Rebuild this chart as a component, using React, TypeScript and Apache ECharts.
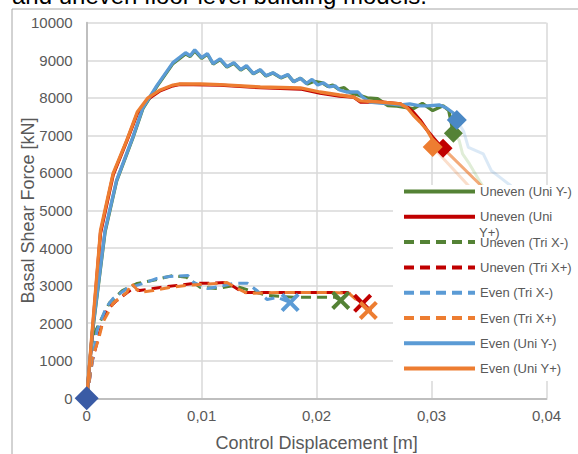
import React, { useEffect, useRef } from "react";
import * as echarts from "echarts";

const FONT = "'Liberation Sans', Arial, Helvetica, sans-serif";
const TXT = "#595959";

const seriesNames = [
  "Uneven (Uni Y-)",
  "Uneven (Uni Y+)",
  "Uneven (Tri X-)",
  "Uneven (Tri X+)",
  "Even (Tri X-)",
  "Even (Tri X+)",
  "Even (Uni Y-)",
  "Even (Uni Y+)",
];

const xTicks = [0, 0.01, 0.02, 0.03, 0.04];
const yTicks = [0, 1000, 2000, 3000, 4000, 5000, 6000, 7000, 8000, 9000, 10000];

// Uneven (Uni Y-) – green solid
const unevenUniYNeg = [
  [0, 0], [0.0005, 1750], [0.0016, 4430], [0.0026, 5780], [0.004, 6920], [0.0049, 7720],
  [0.0061, 8300], [0.0075, 8910], [0.0086, 9170], [0.009, 9100], [0.0094, 9250], [0.01, 9050],
  [0.0105, 9160], [0.011, 8900], [0.0116, 9020], [0.0122, 8820], [0.0128, 8920], [0.0134, 8740],
  [0.0139, 8840], [0.0145, 8640], [0.0151, 8740], [0.0156, 8580], [0.0162, 8660], [0.0169, 8530],
  [0.0175, 8610], [0.018, 8430], [0.0186, 8520], [0.0192, 8370], [0.0198, 8440], [0.0205, 8400],
  [0.021, 8300], [0.0214, 8340], [0.0219, 8230], [0.0224, 8270], [0.0229, 8140], [0.0236, 8080],
  [0.0244, 8000], [0.0253, 7980], [0.0262, 7790], [0.027, 7780], [0.0278, 7740], [0.0284, 7710],
  [0.0292, 7850], [0.0301, 7660], [0.031, 7790], [0.0315, 7660], [0.0319, 7060],
];
const unevenUniYNegTail = [
  [0.0319, 7060], [0.0324, 6870], [0.0327, 6510], [0.0333, 6240], [0.0343, 5720], [0.035, 5400],
];

// Uneven (Uni Y+) – red solid
const unevenUniYPos = [
  [0, 0], [0.0004, 1400], [0.0012, 4400], [0.0023, 5950], [0.0035, 6860], [0.0044, 7580],
  [0.0053, 7960], [0.0064, 8190], [0.0075, 8320], [0.0081, 8360], [0.0116, 8340], [0.0151, 8270],
  [0.0186, 8235], [0.0203, 8128], [0.022, 8048], [0.0232, 8022], [0.0238, 7889], [0.0255, 7889],
  [0.0273, 7836], [0.0279, 7756], [0.0284, 7623], [0.029, 7410], [0.0296, 7143], [0.0301, 6956],
  [0.0307, 6743], [0.031, 6660],
];
const unevenUniYPosTail = [[0.031, 6660], [0.0343, 5665], [0.0352, 5400]];

// Uneven (Tri X-) – green dashed
const unevenTriXNeg = [
  [0, 0], [0.0005, 1620], [0.0011, 2000], [0.002, 2550], [0.0031, 2870], [0.0044, 3060],
  [0.0058, 3140], [0.0075, 3270], [0.0087, 3220], [0.0093, 3085], [0.0099, 2950], [0.0114, 2925],
  [0.0128, 3005], [0.0142, 2870], [0.0157, 2740], [0.018, 2690], [0.021, 2690], [0.0216, 2690],
  [0.0221, 2606],
];

// Uneven (Tri X+) – red dashed
const unevenTriXPos = [
  [0, 0], [0.0005, 1010], [0.0011, 1730], [0.0017, 2340], [0.0026, 2600], [0.004, 2925],
  [0.0046, 2870], [0.0064, 2950], [0.0093, 3060], [0.0107, 3060], [0.0122, 3085], [0.0136, 2820],
  [0.0166, 2820], [0.021, 2820], [0.0227, 2820], [0.024, 2530],
];

// Even (Tri X-) – blue dashed
const evenTriXNeg = [
  [0, 0], [0.0009, 1810], [0.0017, 2420], [0.0023, 2660], [0.0035, 2925], [0.0049, 3060],
  [0.0061, 3190], [0.0072, 3245], [0.0088, 3270], [0.0093, 3085], [0.0105, 2925], [0.0116, 2980],
  [0.0128, 3060], [0.014, 3060], [0.0148, 2870], [0.0157, 2630], [0.0166, 2690], [0.0177, 2550],
];

// Even (Tri X+) – orange dashed
const evenTriXPos = [
  [0, 0], [0.0005, 1090], [0.001, 1540], [0.0014, 2020], [0.0023, 2530], [0.0035, 2820],
  [0.0039, 3060], [0.0046, 2820], [0.0058, 2870], [0.0072, 2950], [0.0087, 3005], [0.0099, 3030],
  [0.0114, 3060], [0.0122, 3085], [0.0131, 2925], [0.014, 2790], [0.0166, 2820], [0.021, 2820],
  [0.0228, 2800], [0.0245, 2340],
];

// Even (Uni Y-) – blue solid
const evenUniYNeg = [
  [0, 0], [0.0005, 1800], [0.0016, 4470], [0.0026, 5800], [0.004, 6940], [0.0049, 7740],
  [0.0061, 8325], [0.0075, 8936], [0.0086, 9200], [0.009, 9120], [0.0094, 9280], [0.01, 9070],
  [0.0105, 9180], [0.011, 8910], [0.0116, 9040], [0.0122, 8830], [0.0128, 8936], [0.0134, 8750],
  [0.0139, 8856], [0.0145, 8645], [0.0151, 8750], [0.0156, 8590], [0.0162, 8670], [0.0169, 8540],
  [0.0175, 8620], [0.018, 8430], [0.0186, 8520], [0.0191, 8380], [0.0196, 8490], [0.0201, 8340],
  [0.0206, 8400], [0.0211, 8290], [0.0216, 8320], [0.022, 8208], [0.0226, 8155], [0.0236, 8155],
  [0.024, 8022], [0.0246, 7889], [0.0255, 7862], [0.0264, 7836], [0.0273, 7809], [0.0281, 7836],
  [0.029, 7783], [0.0296, 7783], [0.0307, 7809], [0.0313, 7729], [0.0319, 7596], [0.0322, 7410],
];
const evenUniYNegTail = [
  [0.0322, 7410], [0.0328, 7100], [0.0332, 6680], [0.0345, 6510], [0.0352, 6060], [0.0361, 5850],
  [0.0369, 5660], [0.038, 5300],
];

// Even (Uni Y+) – orange solid
const evenUniYPos = [
  [0, 0], [0.0004, 1500], [0.0012, 4470], [0.0023, 5990], [0.0035, 6880], [0.0044, 7620],
  [0.0053, 7990], [0.0064, 8210], [0.0075, 8340], [0.0081, 8368], [0.0099, 8368], [0.0116, 8350],
  [0.0151, 8288], [0.0186, 8262], [0.0203, 8155], [0.022, 8075], [0.0232, 8022], [0.0238, 7916],
  [0.0255, 7889], [0.0273, 7836], [0.0279, 7729], [0.0284, 7543], [0.029, 7356], [0.0296, 7143],
  [0.0301, 6877], [0.0301, 6688],
];
const evenUniYPosTail = [[0.0301, 6688], [0.0332, 5665], [0.034, 5400]];

const originPoint = [[0, 0]];

const GREEN = "#548235";
const RED = "#C00000";
const BLUE = "#5B9BD5";
const ORANGE = "#ED7D31";

const X_PATH =
  "path://M0,3 L3,0 L10,7 L17,0 L20,3 L13,10 L20,17 L17,20 L10,13 L3,20 L0,17 L7,10 Z";

const last = (arr: number[][]) => [arr[arr.length - 1]];

function line(name: string, data: number[][], color: string, dashed: boolean) {
  return {
    name,
    type: "line",
    data,
    symbol: "none",
    showSymbol: false,
    smooth: false,
    color,
    lineStyle: {
      color,
      width: dashed ? 3 : 3.3,
      type: dashed ? [10, 6] : "solid",
    },
    z: 2,
  };
}

function tail(name: string, data: number[][], color: string) {
  return {
    name,
    type: "line",
    data,
    symbol: "none",
    showSymbol: false,
    lineStyle: { color, width: 3 },
    z: 1,
    silent: true,
  };
}

function marker(name: string, data: number[][], color: string, symbol: string, size: number) {
  return {
    name,
    type: "scatter",
    data,
    symbol,
    symbolSize: size,
    itemStyle: { color, opacity: 1 },
    z: 3,
    silent: true,
  };
}

export default function App() {
  const ref = useRef<HTMLDivElement>(null);

  useEffect(() => {
    if (!ref.current) return;
    const chart = echarts.init(ref.current, undefined, { renderer: "svg" });
    const option = {
      animation: false,
      backgroundColor: "#ffffff",
      textStyle: { fontFamily: FONT },
      grid: {
        left: 86.7,
        right: 31.5,
        top: 22.7,
        bottom: 55.7,
        containLabel: false,
        outerBoundsMode: "none",
      },
      xAxis: {
        type: "value",
        min: xTicks[0],
        max: xTicks[xTicks.length - 1],
        interval: 0.01,
        name: "Control Displacement [m]",
        nameLocation: "middle",
        nameGap: 36,
        nameMoveOverlap: false,
        nameTextStyle: { fontSize: 18, color: TXT, fontFamily: FONT },
        axisLine: { show: true, onZero: false, lineStyle: { color: "#bfbfbf", width: 2 } },
        axisTick: { show: false },
        axisLabel: {
          fontSize: 15,
          color: TXT,
          fontFamily: FONT,
          margin: 10,
          formatter: (v: number) => String(+v.toFixed(4)).replace(".", ","),
        },
        splitLine: { show: true, lineStyle: { color: "#d9d9d9", width: 1.5 } },
      },
      yAxis: {
        type: "value",
        min: yTicks[0],
        max: yTicks[yTicks.length - 1],
        interval: 1000,
        name: "Basal Shear Force [kN]",
        nameLocation: "middle",
        nameGap: 50,
        nameMoveOverlap: false,
        nameTextStyle: { fontSize: 18, color: TXT, fontFamily: FONT },
        axisLine: { show: true, lineStyle: { color: "#bfbfbf", width: 2 } },
        axisTick: { show: false },
        axisLabel: {
          fontSize: 15,
          color: TXT,
          fontFamily: FONT,
          margin: 14,
          formatter: (v: number) => String(v),
        },
        splitLine: { show: true, lineStyle: { color: "#d9d9d9", width: 1.5 } },
      },
      legend: {
        data: seriesNames,
        orient: "vertical",
        left: 393,
        top: 185,
        padding: [0, 10, 6, 9],
        itemWidth: 71,
        itemHeight: 14,
        itemGap: 12.3,
        backgroundColor: "#ffffff",
        selectedMode: false,
        itemStyle: { opacity: 0 },
        lineStyle: { width: 4 },
        textStyle: { fontSize: 13, color: TXT, fontFamily: FONT },
        formatter: (n: string) => (n === "Uneven (Uni Y+)" ? "Uneven (Uni" : n),
        z: 4,
      },
      graphic: [
        {
          type: "rect",
          shape: { x: 12, y: 9, width: 700, height: 600 },
          style: { fill: "none", stroke: "#a6a6a6", lineWidth: 1 },
          z: 0,
          silent: true,
        },
        {
          type: "text",
          x: 12,
          y: -5,
          style: {
            text: "and uneven floor level building models.",
            font: `24px ${FONT}`,
            fill: "#000000",
            verticalAlign: "middle",
          },
          z: 0,
        },
        {
          type: "text",
          x: 479,
          y: 232,
          style: {
            text: "Y+)",
            font: `13px ${FONT}`,
            fill: TXT,
            verticalAlign: "middle",
          },
          z: 100,
        },
      ],
      series: [
        tail("tail-uneven-uni-y-neg", unevenUniYNegTail, "rgba(112,173,71,0.22)"),
        tail("tail-uneven-uni-y-pos", unevenUniYPosTail, "rgba(237,125,49,0.65)"),
        tail("tail-even-uni-y-neg", evenUniYNegTail, "rgba(91,155,213,0.22)"),
        tail("tail-even-uni-y-pos", evenUniYPosTail, "rgba(237,125,49,0.25)"),
        line(seriesNames[0], unevenUniYNeg, GREEN, false),
        line(seriesNames[1], unevenUniYPos, RED, false),
        line(seriesNames[2], unevenTriXNeg, GREEN, true),
        line(seriesNames[3], unevenTriXPos, RED, true),
        line(seriesNames[4], evenTriXNeg, BLUE, true),
        line(seriesNames[5], evenTriXPos, ORANGE, true),
        line(seriesNames[6], evenUniYNeg, BLUE, false),
        line(seriesNames[7], evenUniYPos, ORANGE, false),
        marker("m-uneven-uni-y-neg", last(unevenUniYNeg), GREEN, "diamond", 19),
        marker("m-uneven-uni-y-pos", last(unevenUniYPos), RED, "diamond", 19),
        marker("m-even-uni-y-neg", last(evenUniYNeg), "#4A88C5", "diamond", 20),
        marker("m-even-uni-y-pos", last(evenUniYPos), ORANGE, "diamond", 20),
        marker("m-uneven-tri-x-neg", last(unevenTriXNeg), GREEN, X_PATH, 19),
        marker("m-uneven-tri-x-pos", last(unevenTriXPos), RED, X_PATH, 19),
        marker("m-even-tri-x-neg", last(evenTriXNeg), BLUE, X_PATH, 19),
        marker("m-even-tri-x-pos", last(evenTriXPos), ORANGE, X_PATH, 19),
        marker("m-origin", originPoint, "#3A5BA5", "diamond", 24),
      ],
    };
    chart.setOption(option as any);
    return () => chart.dispose();
  }, []);

  return (
    <div
      ref={ref}
      style={{ position: "fixed", left: 0, top: 0, width: 578, height: 454, background: "#fff" }}
    />
  );
}
